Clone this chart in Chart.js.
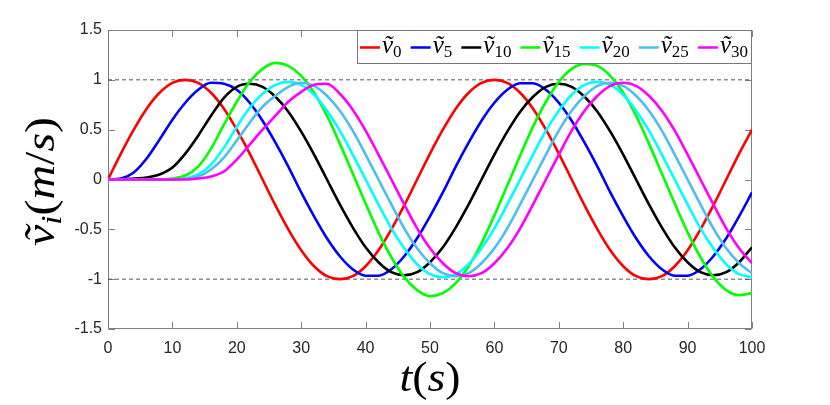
<!DOCTYPE html>
<html>
<head>
<meta charset="utf-8">
<script src="https://cdn.jsdelivr.net/npm/chart.js@4/dist/chart.umd.min.js"></script>
<style>
  body { margin: 0; background: #fff; }
  #wrap { width: 830px; height: 405px; }
</style>
</head>
<body>
<div id="wrap"><canvas id="myChart"></canvas></div>
<script>
// sample times (s)
var times = [0, 2, 4, 6, 8, 10, 12, 14, 16, 18, 20, 22, 24, 26, 28, 30, 32, 34, 36, 38, 40,
             42, 44, 46, 48, 50, 52, 54, 56, 58, 60, 62, 64, 66, 68, 70, 72, 74, 76, 78, 80,
             82, 84, 86, 88, 90, 92, 94, 96, 98, 100];

// velocity of each vehicle
var v0  = [0, .26, .5, .71, .87, .97, 1, .97, .87, .71, .5, .26, 0, -.26, -.5, -.71, -.87, -.97, -1, -.97, -.87,
           -.71, -.5, -.26, 0, .26, .5, .71, .87, .97, 1, .97, .87, .71, .5, .26, 0, -.26, -.5, -.71, -.87,
           -.97, -1, -.97, -.87, -.71, -.5, -.26, 0, .26, .5];
var v5  = [0, .01, .07, .21, .4, .6, .77, .9, .97, .96, .9, .77, .59, .37, .13, -.13, -.37, -.59, -.77, -.9, -.965,
           -.965, -.9, -.77, -.59, -.37, -.13, .13, .37, .59, .77, .9, .965, .965, .9, .77, .59, .37, .13, -.13, -.37,
           -.59, -.77, -.9, -.965, -.965, -.9, -.77, -.59, -.37, -.13];
var v10 = [0, 0, .01, .02, .05, .12, .26, .44, .64, .82, .93, .96, .93, .83, .68, .48, .25, 0, -.25, -.48, -.68,
           -.83, -.93, -.96, -.93, -.83, -.68, -.48, -.25, 0, .25, .48, .68, .83, .93, .96, .93, .83, .68, .48, .25,
           0, -.25, -.48, -.68, -.83, -.93, -.96, -.93, -.83, -.68];
var v15 = [0, 0, 0, 0, 0, .01, .04, .13, .31, .55, .78, .98, 1.11, 1.17, 1.14, 1.04, .87, .64, .36, .06, -.24,
           -.53, -.78, -.98, -1.11, -1.17, -1.14, -1.04, -.87, -.64, -.36, -.06, .24, .53, .78, .98, 1.11, 1.16, 1.14, 1.04, .87,
           .64, .36, .06, -.24, -.53, -.78, -.98, -1.11, -1.16, -1.14];
var v20 = [0, 0, 0, 0, 0, 0, .01, .05, .15, .32, .53, .72, .86, .95, .98, .95, .85, .69, .49, .25, 0,
           -.25, -.49, -.69, -.85, -.95, -.98, -.95, -.85, -.69, -.49, -.25, 0, .25, .49, .69, .85, .95, .98, .95, .85,
           .69, .49, .25, 0, -.25, -.49, -.69, -.85, -.95, -.98];
var v25 = [0, 0, 0, 0, 0, 0, .01, .03, .1, .22, .39, .57, .73, .84, .93, .97, .94, .84, .69, .49, .25,
           0, -.25, -.49, -.69, -.84, -.94, -.97, -.94, -.84, -.69, -.49, -.25, 0, .25, .49, .69, .84, .94, .97, .94,
           .84, .69, .49, .25, 0, -.25, -.49, -.69, -.84, -.94];
var v30 = [0, 0, 0, 0, 0, 0, 0, .01, .03, .08, .2, .35, .5, .64, .78, .88, .95, .96, .86, .7, .49,
           .25, 0, -.25, -.49, -.69, -.84, -.94, -.97, -.94, -.84, -.69, -.49, -.25, 0, .25, .49, .69, .84, .94, .97,
           .94, .84, .69, .49, .25, 0, -.25, -.49, -.69, -.84];

var series = [v0, v5, v10, v15, v20, v25, v30];
var subscripts = ['0', '5', '10', '15', '20', '25', '30'];
var colors = ['#ff0000', '#0000ff', '#000000', '#00ff00', '#00ffff', '#4dbeee', '#ff00ff'];
var refLevels = [1, -1];

var xTicks = [0, 10, 20, 30, 40, 50, 60, 70, 80, 90, 100];
var xTickLabels = ['0', '10', '20', '30', '40', '50', '60', '70', '80', '90', '100'];
var yTicks = [-1.5, -1, -0.5, 0, 0.5, 1, 1.5];
var yTickLabels = ['-1.5', '-1', '-0.5', '0', '0.5', '1', '1.5'];

var AXIS_COLOR = '#808080';
var TEXT_COLOR = '#262626';
var TICK_LEN = 6.5;

function serif(size, italic) {
  return (italic ? 'italic ' : '') + size + 'px "Liberation Serif", "DejaVu Serif", serif';
}

// draws a row of text pieces [text, size, italic, dy], centred on x unless left=true
function drawRich(ctx, parts, x, y, targetW, left) {
  var w = 0;
  parts.forEach(function (p) {
    ctx.font = serif(p[1], p[2]);
    p.w = ctx.measureText(p[0]).width;
    w += p.w;
  });
  var k = targetW ? targetW / w : 1;
  ctx.save();
  ctx.translate(x, y);
  ctx.scale(k, 1);
  ctx.textBaseline = 'alphabetic';
  ctx.textAlign = 'left';
  var cx = left ? 0 : -w / 2;
  parts.forEach(function (p) {
    ctx.font = serif(p[1], p[2]);
    ctx.fillText(p[0], cx, p[3]);
    cx += p.w;
  });
  ctx.restore();
  return w * k;
}

var matlabAxes = {
  id: 'matlabAxes',
  beforeDatasetsDraw: function (chart) {
    var ctx = chart.ctx, a = chart.chartArea;
    var xs = chart.scales.x, ys = chart.scales.y;
    var l = Math.round(a.left) + 0.5, r = Math.round(a.right) - 0.5;
    var t = Math.round(a.top) + 0.5, b = Math.round(a.bottom) - 0.5;
    ctx.save();
    ctx.strokeStyle = AXIS_COLOR;
    ctx.lineWidth = 1;
    ctx.strokeRect(l, t, r - l, b - t);
    ctx.beginPath();
    xTicks.forEach(function (v) {
      var px = Math.round(xs.getPixelForValue(v)) + 0.5;
      ctx.moveTo(px, b); ctx.lineTo(px, b - TICK_LEN);
      ctx.moveTo(px, t); ctx.lineTo(px, t + TICK_LEN);
    });
    yTicks.forEach(function (v) {
      var py = Math.round(ys.getPixelForValue(v)) + 0.5;
      ctx.moveTo(l, py); ctx.lineTo(l + TICK_LEN, py);
      ctx.moveTo(r, py); ctx.lineTo(r - TICK_LEN, py);
    });
    ctx.stroke();
    ctx.restore();
  },
  afterDraw: function (chart) {
    var ctx = chart.ctx, a = chart.chartArea;
    ctx.save();
    ctx.fillStyle = '#000';
    // x title  t(s)
    drawRich(ctx, [['t', 42, true, 0], ['(', 42, false, 0], ['s', 42, true, 0], [')', 42, false, 0]],
             (a.left + a.right) / 2, 391, 61);
    // y title  v~_i(m/s)
    ctx.save();
    ctx.translate(54, (a.top + a.bottom) / 2 + 2);
    ctx.rotate(-Math.PI / 2);
    drawRich(ctx, [['ṽ', 42, true, 0], ['i', 29, true, 7], ['(', 42, false, 0], ['m', 42, true, 0],
                   ['/', 42, false, 0], ['s', 42, true, 0], [')', 42, false, 0]], 0, 0, 129);
    ctx.restore();

    // legend box
    var bx = a.right - 395, by = a.top, bw = 394, bh = 33;
    ctx.fillStyle = '#fff';
    ctx.fillRect(bx, by, bw, bh);
    ctx.strokeStyle = '#777';
    ctx.lineWidth = 1;
    ctx.strokeRect(Math.round(bx) + 0.5, Math.round(by) + 0.5, bw, bh);

    var items = subscripts.map(function (s) {
      var parts = [['ṽ', 25, true, 0], [s, 17, false, 4]];
      var w = 0;
      parts.forEach(function (p) { ctx.font = serif(p[1], p[2]); w += ctx.measureText(p[0]).width; });
      return { parts: parts, w: w };
    });
    var lineLen = 20, gapIn = 2, pad = 3;
    var total = items.reduce(function (s, it) { return s + lineLen + gapIn + it.w; }, 0);
    var gap = (bw - 2 * pad - total) / (items.length - 1);
    var cx = bx + pad;
    var midY = by + bh / 2 + 1;
    items.forEach(function (it, i) {
      ctx.strokeStyle = colors[i];
      ctx.lineWidth = 2.5;
      ctx.beginPath();
      ctx.moveTo(cx, midY); ctx.lineTo(cx + lineLen, midY);
      ctx.stroke();
      ctx.fillStyle = '#000';
      drawRich(ctx, it.parts, cx + lineLen + gapIn, by + 23, null, true);
      cx += lineLen + gapIn + it.w + gap;
    });
    ctx.restore();
  }
};

var datasets = refLevels.map(function (lvl) {
  return {
    data: [{ x: xTicks[0], y: lvl }, { x: xTicks[xTicks.length - 1], y: lvl }],
    borderColor: '#555',
    borderWidth: 1,
    borderDash: [4, 3],
    pointRadius: 0,
    order: 20
  };
});
series.forEach(function (vals, i) {
  datasets.push({
    label: 'v' + subscripts[i],
    data: times.map(function (t, j) { return { x: t, y: vals[j] }; }),
    borderColor: colors[i],
    borderWidth: 2.6,
    pointRadius: 0,
    cubicInterpolationMode: 'monotone',
    fill: false,
    order: series.length - 1 - i
  });
});

var tickFont = { family: '"Liberation Sans", Arial, Helvetica, sans-serif', size: 16 };

var ctx1 = document.getElementById('myChart');
var myChart = new Chart(ctx1, {
  type: 'line',
  data: { datasets: datasets },
  options: {
    responsive: true,
    maintainAspectRatio: false,
    animation: false,
    events: [],
    layout: { padding: { top: 30, right: 78, left: 0, bottom: 0 } },
    plugins: { legend: { display: false }, tooltip: { enabled: false } },
    scales: {
      x: {
        type: 'linear',
        min: 0,
        max: 100,
        grid: { display: false, drawTicks: false },
        border: { display: false },
        afterBuildTicks: function (s) { s.ticks = xTicks.map(function (v) { return { value: v }; }); },
        afterFit: function (s) { s.height = 76; },
        ticks: {
          autoSkip: false,
          maxRotation: 0,
          padding: 10,
          color: TEXT_COLOR,
          font: tickFont,
          callback: function (v, i) { return xTickLabels[i]; }
        }
      },
      y: {
        type: 'linear',
        min: -1.5,
        max: 1.5,
        grid: { display: false, drawTicks: false },
        border: { display: false },
        afterBuildTicks: function (s) { s.ticks = yTicks.map(function (v) { return { value: v }; }); },
        afterFit: function (s) { s.width = 108; },
        ticks: {
          autoSkip: false,
          padding: 6,
          color: TEXT_COLOR,
          font: tickFont,
          callback: function (v, i) { return yTickLabels[i]; }
        }
      }
    }
  },
  plugins: [matlabAxes]
});
</script>
</body>
</html>
